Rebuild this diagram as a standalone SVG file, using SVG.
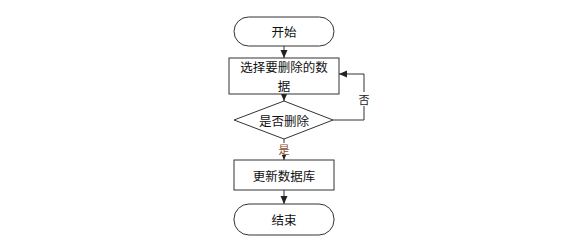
<svg xmlns="http://www.w3.org/2000/svg" width="573" height="242" viewBox="0 0 573 242">
<defs>
<style>
.s{fill:#fff;stroke:#333;stroke-width:1}
.t{font-family:"Noto Sans CJK SC","Liberation Serif",serif;font-size:12.5px;fill:#111;text-anchor:middle;dominant-baseline:central}
.c{fill:none;stroke:#333;stroke-width:1}
.l{font-family:"Noto Sans CJK SC",serif;font-size:11px;text-anchor:middle;dominant-baseline:central}
</style>
<marker id="a" viewBox="0 0 8 8" refX="8" refY="4" markerWidth="8" markerHeight="8" markerUnits="userSpaceOnUse" orient="auto">
<path d="M0,0.5 L8,4 L0,7.5 Z" fill="#222"/>
</marker>
</defs>
<rect width="573" height="242" fill="#fff"/>
<g id="connectors">
<line class="c" x1="284" y1="46" x2="284" y2="58" marker-end="url(#a)"/>
<line class="c" x1="284" y1="94" x2="284" y2="101" marker-end="url(#a)"/>
<line class="c" x1="284" y1="139" x2="284" y2="160" marker-end="url(#a)"/>
<line class="c" x1="284" y1="190" x2="284" y2="204" marker-end="url(#a)"/>
<polyline class="c" points="333,120 364,120 364,74 339,74" marker-end="url(#a)"/>
<rect x="358" y="92" width="12" height="14" fill="#fff"/>
<text class="l" x="364" y="99" fill="#222">否</text>
<rect x="277" y="143" width="14" height="12" fill="#fff"/>
<text class="l" x="284" y="149" fill="#8a4a2a">是</text>
</g>
<g id="start">
<rect class="s" x="234" y="17" width="100" height="29" rx="14.5"/>
<text class="t" x="284" y="31.5">开始</text>
</g>
<g id="select">
<rect class="s" x="229" y="58" width="110" height="36"/>
<text class="t" x="284" y="66.5">选择要删除的数</text>
<text class="t" x="284" y="85">据</text>
</g>
<g id="decide">
<polygon class="s" points="284,101 333,120 284,139 234,120"/>
<text class="t" x="284" y="120">是否删除</text>
</g>
<g id="update">
<rect class="s" x="234" y="160" width="100" height="30"/>
<text class="t" x="284" y="175">更新数据库</text>
</g>
<g id="end">
<rect class="s" x="234" y="204" width="100" height="31" rx="15"/>
<text class="t" x="284" y="219.5">结束</text>
</g>
</svg>
